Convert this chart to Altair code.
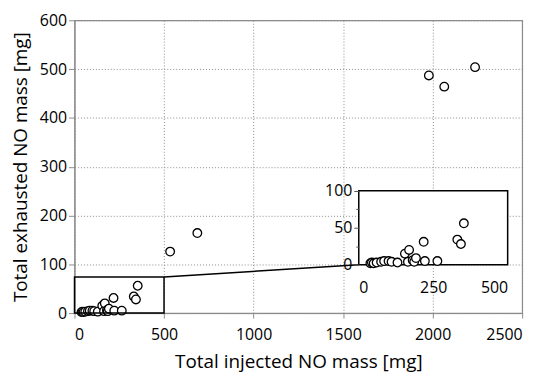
import altair as alt
import pandas as pd

# ---- data ----
injected = [39, 44, 50, 60, 75, 85, 100, 110, 130, 155, 165, 169, 181, 186, 192,
            218, 222, 264, 331, 343, 353, 534, 686, 1979, 2065, 2237]
exhausted = [2, 3, 2, 3, 4, 5, 5, 4, 3, 15, 4, 20, 6, 4, 9,
             31, 5, 5, 34, 28, 56, 126, 164, 487, 464, 504]

main_x_domain = [0, 2500]
main_y_domain = [0, 600]
inset_x_domain = [0, 500]
inset_y_domain = [0, 100]
zoom_box_x = [0, 500]
zoom_box_y = [0, 74]

# ---- layout ----
PAD_TOP = 11
W, H = 451, 306 - PAD_TOP
INSET_X_RANGE = [286.4, 436.4]
INSET_Y_RANGE = [257.3 - PAD_TOP, 182.7 - PAD_TOP]
FONT = "Open Sans"

df = pd.DataFrame({"x": injected, "y": exhausted})
df_in = df[(df.x <= inset_x_domain[1]) & (df.y <= inset_y_domain[1])]

# connector end point: inset origin expressed in main data coordinates
conn_x = INSET_X_RANGE[0] / W * main_x_domain[1]
conn_y = (H - INSET_Y_RANGE[0]) / H * main_y_domain[1]

xs_main = alt.Scale(domain=main_x_domain, nice=False)
ys_main = alt.Scale(domain=main_y_domain, nice=False)

x_axis_main = alt.Axis(title="Total injected NO mass [mg]", values=list(range(0, 2501, 500)),
                       format="d",
                       grid=True, gridDash=[1, 2], gridColor="#8c8c8c",
                       domainColor="#8c8c8c", tickColor="#8c8c8c", tickSize=5,
                       labelPadding=9, orient="bottom")
y_axis_main = alt.Axis(title="Total exhausted NO mass [mg]", values=list(range(0, 601, 50)),
                       format="d",
                       grid=True, gridDash=[1, 2], gridColor="#8c8c8c",
                       gridOpacity={"condition": {"test": "datum.value % 100 == 0", "value": 1}, "value": 0},
                       tickSize={"condition": {"test": "datum.value % 100 == 0", "value": 6}, "value": 3},
                       labelExpr="datum.value % 100 == 0 ? datum.label : ''",
                       domainColor="#8c8c8c", tickColor="#8c8c8c",
                       labelPadding=2, orient="left")

main_pts = alt.Chart(df).mark_point(shape="circle", filled=True, fill="white",
                                     stroke="black", strokeWidth=1.3, size=75, opacity=1).encode(
    x=alt.X("x:Q", scale=xs_main, axis=x_axis_main),
    y=alt.Y("y:Q", scale=ys_main, axis=y_axis_main),
)

box_df = pd.DataFrame({"x": [zoom_box_x[0]], "x2": [zoom_box_x[1]],
                       "y": [zoom_box_y[0]], "y2": [zoom_box_y[1]]})
zoom_box = alt.Chart(box_df).mark_rect(fill=None, stroke="black", strokeWidth=1.5).encode(
    x=alt.X("x:Q", scale=xs_main), x2="x2", y=alt.Y("y:Q", scale=ys_main), y2="y2")

conn_df = pd.DataFrame({"x": [zoom_box_x[1]], "y": [zoom_box_y[1]], "x2": [conn_x], "y2": [conn_y]})
connector = alt.Chart(conn_df).mark_rule(color="black", strokeWidth=1.5).encode(
    x=alt.X("x:Q", scale=xs_main), x2="x2", y=alt.Y("y:Q", scale=ys_main), y2="y2")

main = alt.layer(main_pts, zoom_box, connector)

# ---- inset ----
xs_in = alt.Scale(domain=inset_x_domain, range=INSET_X_RANGE, nice=False)
ys_in = alt.Scale(domain=inset_y_domain, range=INSET_Y_RANGE, nice=False)

x_axis_in = alt.Axis(title=None, values=[0, 250, 500], orient="bottom", grid=False,
                     format="d",
                     offset=INSET_Y_RANGE[0] - H, ticks=False, domain=False,
                     labelPadding=15, zindex=1)
y_axis_in = alt.Axis(title=None, values=list(range(0, 101, 25)), orient="left", grid=False,
                     format="d",
                     offset=-INSET_X_RANGE[0], domain=False, tickColor="#555",
                     tickSize={"condition": {"test": "datum.value % 50 == 0", "value": 5}, "value": 3},
                     labelExpr="datum.value % 50 == 0 ? datum.label : ''",
                     labelPadding=2, zindex=1)

inset_bg_df = pd.DataFrame({"x": [inset_x_domain[0]], "x2": [inset_x_domain[1]],
                            "y": [inset_y_domain[0]], "y2": [inset_y_domain[1]]})
inset_bg = alt.Chart(inset_bg_df).mark_rect(fill="white", stroke="black", strokeWidth=1.5).encode(
    x=alt.X("x:Q", scale=xs_in, axis=x_axis_in), x2="x2",
    y=alt.Y("y:Q", scale=ys_in, axis=y_axis_in), y2="y2")

inset_pts = alt.Chart(df_in).mark_point(shape="circle", filled=True, fill="white",
                                         stroke="black", strokeWidth=1.3, size=75, opacity=1).encode(
    x=alt.X("x:Q", scale=xs_in), y=alt.Y("y:Q", scale=ys_in))

inset = alt.layer(inset_bg, inset_pts)

chart = alt.layer(main, inset).resolve_scale(x="independent", y="independent").properties(
    width=W, height=H,
    autosize=alt.AutoSizeParams(type="none"),
    padding={"left": 67, "top": PAD_TOP, "right": 20, "bottom": 64},
).configure_view(stroke="#8c8c8c", strokeWidth=1.2).configure_axis(
    labelFont=FONT, titleFont=FONT, labelFontSize=16, titleFontSize=19,
    labelColor="black", titleColor="black", titleFontWeight="normal",
).configure_axisX(titlePadding=10).configure_axisY(titlePadding=9)

chart.save("out.html", embed_options={"renderer": "svg", "actions": False})
